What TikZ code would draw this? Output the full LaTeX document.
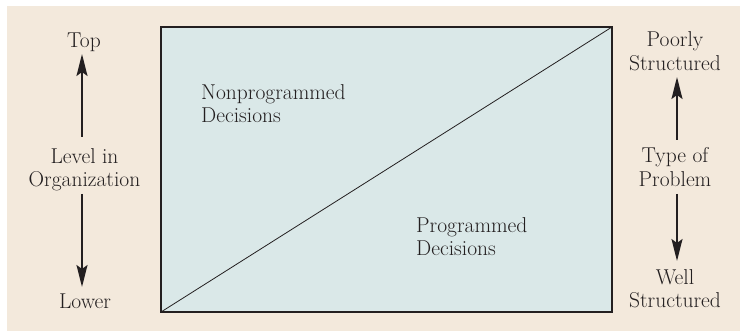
\documentclass[tikz,border=0pt]{standalone}
\usetikzlibrary{arrows.meta}
\definecolor{bgbeige}{HTML}{F3E9DC}
\definecolor{boxfill}{HTML}{DAE8E8}
\definecolor{txt}{HTML}{231F20}
\begin{document}
\begin{tikzpicture}[x=1pt,y=-1pt,
  lbl/.style={font=\fontsize{21.5}{24}\selectfont, text=txt, inner sep=0pt, anchor=base},
  inlbl/.style={font=\fontsize{21.5}{24}\selectfont, text=txt, inner sep=0pt, anchor=base west},
  arr/.style={line width=2pt, draw=txt, -{Stealth[length=22pt,width=11pt,inset=4pt]}}]
\useasboundingbox (0,0) rectangle (740,331);
\fill[bgbeige] (7,6) rectangle (740,331);
\coordinate (bl) at (161,312);
\coordinate (tr) at (612,27);
\filldraw[fill=boxfill, draw=txt, line width=1.4pt] (bl) rectangle (tr);
\draw[txt, line width=0.8pt] (bl) -- (tr);
% left labels
\node[lbl] (top) at (84,48) {Top};
\node[lbl] (lev1) at (84.5,164) {Level in};
\node[lbl] (lev2) at (84.5,187) {Organization};
\node[lbl] (lower) at (85,309) {Lower};
\coordinate (la1) at (82,137);
\coordinate (la2) at (82,54);
\coordinate (lb1) at (82,194);
\coordinate (lb2) at (82,287);
\draw[arr] (la1) -- (la2);
\draw[arr] (lb1) -- (lb2);
% right labels
\node[lbl] (poor1) at (675,47) {Poorly};
\node[lbl] (poor2) at (675,71) {Structured};
\node[lbl] (type1) at (675,163) {Type of};
\node[lbl] (type2) at (675,187) {Problem};
\node[lbl] (well1) at (675,285) {Well};
\node[lbl] (well2) at (675,308) {Structured};
\coordinate (ra1) at (677,140);
\coordinate (ra2) at (677,77);
\coordinate (rb1) at (677,194);
\coordinate (rb2) at (677,261);
\draw[arr] (ra1) -- (ra2);
\draw[arr] (rb1) -- (rb2);
% inner labels
\node[inlbl] (np1) at (201,100) {Nonprogrammed};
\node[inlbl] (np2) at (201,123) {Decisions};
\node[inlbl] (pr1) at (416,233) {Programmed};
\node[inlbl] (pr2) at (416,256) {Decisions};
\end{tikzpicture}
\end{document}
